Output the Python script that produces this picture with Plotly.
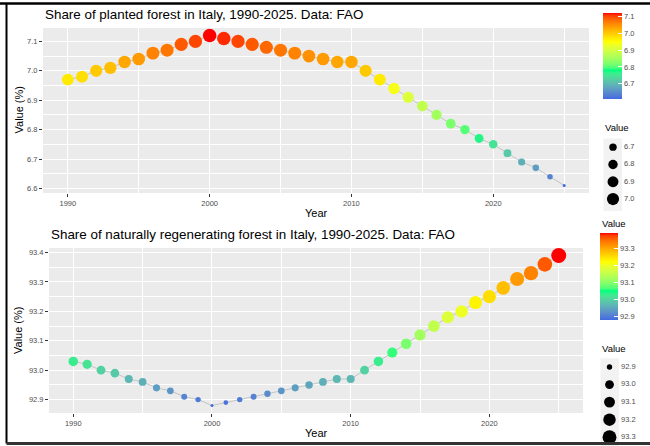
import math
import plotly.graph_objects as go

W, H = 650, 446

# ---------------- data ----------------
years = list(range(1990, 2026))
planted = [6.97, 6.98, 7.00, 7.01, 7.03, 7.04, 7.06, 7.07, 7.09, 7.10,
           7.12, 7.11, 7.10, 7.09, 7.08, 7.07, 7.06, 7.05, 7.04, 7.03,
           7.03, 7.00, 6.97, 6.94, 6.91, 6.88, 6.85, 6.82, 6.80, 6.77,
           6.75, 6.72, 6.69, 6.67, 6.64, 6.61]
natural = [93.03, 93.02, 93.00, 92.99, 92.97, 92.96, 92.94, 92.93, 92.91, 92.90,
           92.88, 92.89, 92.90, 92.91, 92.92, 92.93, 92.94, 92.95, 92.96, 92.97,
           92.97, 93.00, 93.03, 93.06, 93.09, 93.12, 93.15, 93.18, 93.20, 93.23,
           93.25, 93.28, 93.31, 93.33, 93.36, 93.39]
x_ticks = [1990, 2000, 2010, 2020]
top_y_ticks = [6.6, 6.7, 6.8, 6.9, 7.0, 7.1]
bot_y_ticks = [92.9, 93.0, 93.1, 93.2, 93.3, 93.4]
top_cbar_ticks = [6.7, 6.8, 6.9, 7.0, 7.1]
bot_cbar_ticks = [92.9, 93.0, 93.1, 93.2, 93.3]
top_size_keys = [6.7, 6.8, 6.9, 7.0]
bot_size_keys = [92.9, 93.0, 93.1, 93.2, 93.3]
title_top = "Share of planted forest in Italy, 1990-2025. Data: FAO"
title_bot = "Share of naturally regenerating forest in Italy, 1990-2025. Data: FAO"

# ---------------- colour scale (Lab interpolation like ggplot) ----------------
anchors = ["#4169E1", "#00FF7F", "#FFFF00", "#FF0000"]


def _lin(c):
    c = c / 255.0
    return c / 12.92 if c <= 0.04045 else ((c + 0.055) / 1.055) ** 2.4


def _gam(c):
    c = 12.92 * c if c <= 0.0031308 else 1.055 * c ** (1 / 2.4) - 0.055
    return max(0, min(255, round(c * 255)))


def hex2lab(h):
    r, g, b = (_lin(int(h[i:i + 2], 16)) for i in (1, 3, 5))
    X = (0.4124 * r + 0.3576 * g + 0.1805 * b) / 0.95047
    Y = (0.2126 * r + 0.7152 * g + 0.0722 * b)
    Z = (0.0193 * r + 0.1192 * g + 0.9505 * b) / 1.08883
    f = lambda t: t ** (1 / 3) if t > 0.008856 else 7.787 * t + 16 / 116
    return (116 * f(Y) - 16, 500 * (f(X) - f(Y)), 200 * (f(Y) - f(Z)))


def lab2rgb(L, a, b):
    fy = (L + 16) / 116
    fx = fy + a / 500
    fz = fy - b / 200
    finv = lambda t: t ** 3 if t ** 3 > 0.008856 else (t - 16 / 116) / 7.787
    X, Y, Z = finv(fx) * 0.95047, finv(fy), finv(fz) * 1.08883
    r = 3.2406 * X - 1.5372 * Y - 0.4986 * Z
    g = -0.9689 * X + 1.8758 * Y + 0.0415 * Z
    bb = 0.0557 * X - 0.2040 * Y + 1.0570 * Z
    return "rgb(%d,%d,%d)" % (_gam(r), _gam(g), _gam(bb))


labs = [hex2lab(h) for h in anchors]
colorscale = []
N = 36
for i in range(N + 1):
    t = i / N
    seg = min(int(t * 3), 2)
    u = t * 3 - seg
    L = [labs[seg][k] + (labs[seg + 1][k] - labs[seg][k]) * u for k in range(3)]
    colorscale.append([t, lab2rgb(*L)])


def sizes(vals, lo, hi, smin, smax):
    return [smin + (smax - smin) * math.sqrt(max(0, (v - lo) / (hi - lo))) for v in vals]


def px(x):
    return x / W


def py(y):
    return 1 - y / H


FONT = "Liberation Sans, Arial, sans-serif"
TICKC = "#4D4D4D"

fig = go.Figure()

# ---------------- panels ----------------
panels = [
    dict(vals=planted, xa="x", ya="y", smax=13.5, cb=dict(x=603, top=13, bot=99, th=19),
         ticks=top_cbar_ticks, keys=top_size_keys, kx="x3", ky="y3",
         kbox=(598, 650, 138.5, 207.7), kdot=613, klab=624),
    dict(vals=natural, xa="x2", ya="y2", smax=15.0, cb=dict(x=600, top=233, bot=320, th=18),
         ticks=bot_cbar_ticks, keys=bot_size_keys, kx="x4", ky="y4",
         kbox=(595, 650, 358.2, 446.0), kdot=609.5, klab=621),
]
for p in panels:
    lo, hi = min(p["vals"]), max(p["vals"])
    fig.add_trace(go.Scatter(
        x=years, y=p["vals"], xaxis=p["xa"], yaxis=p["ya"], mode="lines+markers",
        line=dict(color="#C4C4C4", width=1),
        marker=dict(size=sizes(p["vals"], lo, hi, 3.0, p["smax"]), color=p["vals"],
                    colorscale=colorscale, cmin=lo, cmax=hi, showscale=True, opacity=1,
                    line=dict(width=0),
                    colorbar=dict(x=px(p["cb"]["x"]), xanchor="left", xpad=0,
                                  y=py(p["cb"]["top"]), yanchor="top", ypad=0,
                                  len=(p["cb"]["bot"] - p["cb"]["top"]) / H, lenmode="fraction",
                                  thickness=p["cb"]["th"], outlinewidth=0,
                                  tickvals=p["ticks"], ticktext=["%.1f" % v for v in p["ticks"]],
                                  ticks="inside", ticklen=4, tickcolor="white", tickwidth=1,
                                  tickfont=dict(size=7.5, color=TICKC, family=FONT))),
        showlegend=False, hoverinfo="x+y"))
    # size legend keys (ggplot-style), drawn on their own small axes: one row per key
    n = len(p["keys"])
    rows = list(range(n))
    fig.add_trace(go.Scatter(
        x=[p["kdot"]] * n, y=rows, xaxis=p["kx"], yaxis=p["ky"], mode="markers",
        marker=dict(size=sizes(p["keys"], lo, hi, 3.0, p["smax"]), color="#000000",
                    opacity=1, line=dict(width=0)),
        showlegend=False, hoverinfo="skip", cliponaxis=False))
    fig.add_trace(go.Scatter(
        x=[p["klab"]] * n, y=rows, xaxis=p["kx"], yaxis=p["ky"], mode="text",
        text=["%.1f" % k for k in p["keys"]], textposition="middle right",
        textfont=dict(size=7.5, color=TICKC, family=FONT),
        showlegend=False, hoverinfo="skip", cliponaxis=False))

axis_common = dict(showline=False, zeroline=False, ticks="outside", ticklen=3,
                   tickcolor="#333333", tickwidth=1, showgrid=True, gridcolor="white",
                   gridwidth=1.1, tickfont=dict(size=7.5, color=TICKC, family=FONT))
hidden = dict(visible=False, showgrid=False, zeroline=False, fixedrange=True)

lay = dict(
    width=W, height=H,
    margin=dict(l=0, r=0, t=0, b=0, autoexpand=False),
    paper_bgcolor="white", plot_bgcolor="rgba(0,0,0,0)",
    font=dict(family=FONT),
    xaxis=dict(domain=[px(43), px(589)], range=[1988.25, 2026.75], anchor="y",
               tickvals=x_ticks, minor=dict(dtick=5, tick0=1985, showgrid=True,
                                            gridcolor="white", gridwidth=0.5, ticks=""),
               **axis_common),
    yaxis=dict(domain=[py(193), py(28)], range=[6.5845, 7.1455], anchor="x",
               tickvals=top_y_ticks, ticktext=["%.1f" % v for v in top_y_ticks],
               minor=dict(dtick=0.05, tick0=6.55, showgrid=True, gridcolor="white",
                          gridwidth=0.5, ticks=""),
               **axis_common),
    xaxis2=dict(domain=[px(49), px(583)], range=[1988.25, 2026.75], anchor="y2",
                tickvals=x_ticks, minor=dict(dtick=5, tick0=1985, showgrid=True,
                                             gridcolor="white", gridwidth=0.5, ticks=""),
                **axis_common),
    yaxis2=dict(domain=[py(413), py(248)], range=[92.8545, 93.4155], anchor="x2",
                tickvals=bot_y_ticks, ticktext=["%.1f" % v for v in bot_y_ticks],
                minor=dict(dtick=0.05, tick0=92.85, showgrid=True, gridcolor="white",
                           gridwidth=0.5, ticks=""),
                **axis_common),
)
for p, (xk, yk) in zip(panels, [("xaxis3", "yaxis3"), ("xaxis4", "yaxis4")]):
    x0, x1, y0, y1 = p["kbox"]
    n = len(p["keys"])
    lay[xk] = dict(domain=[px(x0), px(x1)], range=[x0, x1], anchor=p["ky"], **hidden)
    lay[yk] = dict(domain=[py(y1), py(y0)], range=[n - 0.5, -0.5], anchor=p["kx"], **hidden)
fig.update_layout(**lay)

ann = []
ann.append(dict(text=title_top, x=px(43), y=py(15), xanchor="left", yanchor="middle",
                font=dict(size=13.4, color="black", family=FONT)))
ann.append(dict(text=title_bot, x=px(49), y=py(235), xanchor="left", yanchor="middle",
                font=dict(size=13.4, color="black", family=FONT)))
for xc, yc in [(316, 213), (316, 433)]:
    ann.append(dict(text="Year", x=px(xc), y=py(yc), xanchor="center", yanchor="middle",
                    font=dict(size=11, color="black", family=FONT)))
for yc in [110.5, 331]:
    ann.append(dict(text="Value (%)", x=px(18), y=py(yc), xanchor="center", yanchor="middle",
                    textangle=-90, font=dict(size=11, color="black", family=FONT)))
for xl, yc in [(600, 223), (603, 127), (600, 348)]:
    ann.append(dict(text="Value", x=px(xl), y=py(yc), xanchor="left", yanchor="middle",
                    font=dict(size=9.5, color="black", family=FONT)))
for a in ann:
    a.update(xref="paper", yref="paper", showarrow=False)
fig.update_layout(annotations=ann)

shapes = [
    # panel backgrounds
    dict(type="rect", xref="x domain", yref="y domain", x0=0, x1=1, y0=0, y1=1,
         fillcolor="#EBEBEB", line=dict(width=0), layer="below"),
    dict(type="rect", xref="x2 domain", yref="y2 domain", x0=0, x1=1, y0=0, y1=1,
         fillcolor="#EBEBEB", line=dict(width=0), layer="below"),
    # legend key backgrounds
    dict(type="rect", xref="paper", yref="paper", x0=px(603.5), x1=px(622), y0=py(138.5), y1=py(211),
         fillcolor="#F2F2F2", line=dict(width=0), layer="below"),
    dict(type="rect", xref="paper", yref="paper", x0=px(600.5), x1=px(619), y0=py(358.2), y1=py(446),
         fillcolor="#F2F2F2", line=dict(width=0), layer="below"),
    # outer frame
    dict(type="line", xref="paper", yref="paper", x0=0, x1=1, y0=py(3.5), y1=py(3.5),
         line=dict(color="black", width=2.5)),
    dict(type="line", xref="paper", yref="paper", x0=px(6.5), x1=px(6.5), y0=py(3.5), y1=py(443.5),
         line=dict(color="black", width=2)),
    dict(type="line", xref="paper", yref="paper", x0=px(6.5), x1=1, y0=py(443.5), y1=py(443.5),
         line=dict(color="#333333", width=3)),
]
fig.update_layout(shapes=shapes)

fig.write_html("out.html")
